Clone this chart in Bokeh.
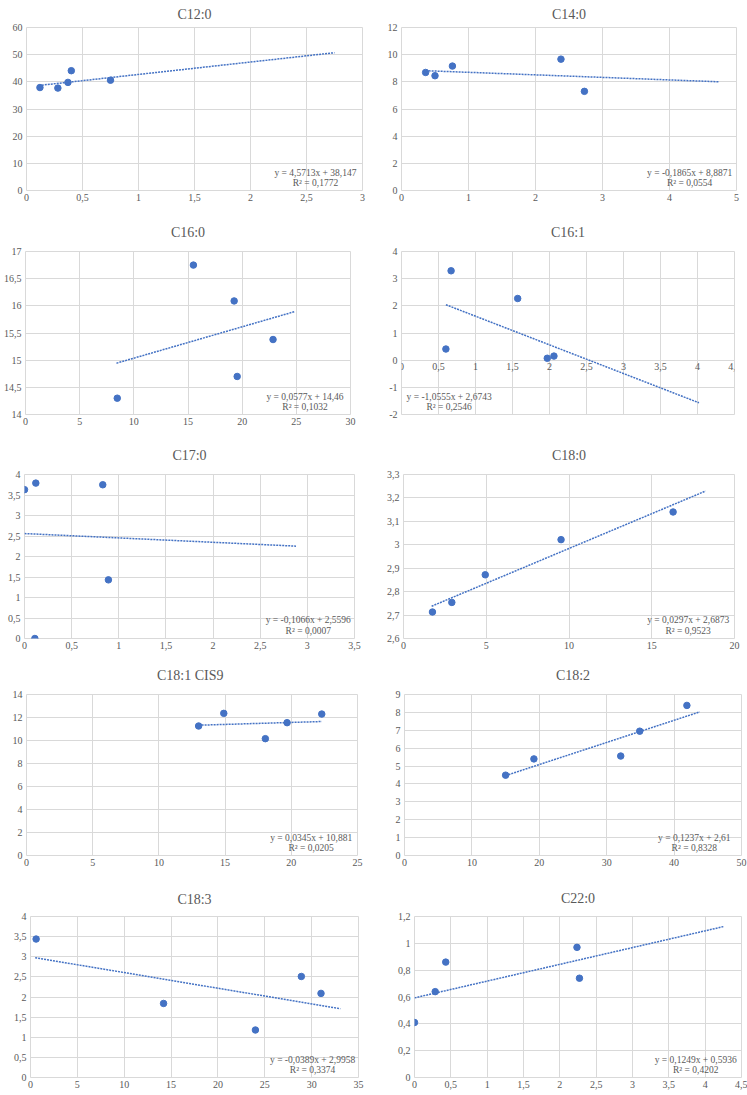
from bokeh.plotting import figure
from bokeh.layouts import column, row
from bokeh.models import Range1d, FixedTicker, CustomJSTickFormatter, Label
from bokeh.embed import file_html
from bokeh.resources import INLINE

# ---------------- data ----------------
titles = ["C12:0", "C14:0", "C16:0", "C16:1", "C17:0",
          "C18:0", "C18:1  CIS9", "C18:2", "C18:3", "C22:0"]

c12_0_x = [0.12, 0.28, 0.37, 0.40, 0.75]
c12_0_y = [37.9, 37.7, 39.8, 44.1, 40.6]
c14_0_x = [0.36, 0.50, 0.76, 2.38, 2.73]
c14_0_y = [8.69, 8.45, 9.16, 9.67, 7.30]
c16_0_x = [8.47, 15.5, 19.26, 19.54, 22.85]
c16_0_y = [14.30, 16.75, 16.09, 14.70, 15.38]
c16_1_x = [0.60, 0.67, 1.57, 1.97, 2.06]
c16_1_y = [0.41, 3.29, 2.27, 0.07, 0.15]
c17_0_x = [0.0, 0.12, 0.83, 0.89, 0.11]
c17_0_y = [3.63, 3.79, 3.75, 1.43, 0.0]
c18_0_x = [1.75, 2.92, 4.94, 9.52, 16.29]
c18_0_y = [2.713, 2.754, 2.872, 3.022, 3.140]
c18_1_x = [13.0, 14.9, 18.04, 19.68, 22.3]
c18_1_y = [11.26, 12.36, 10.16, 11.55, 12.30]
c18_2_x = [15.0, 19.2, 32.08, 34.9, 41.9]
c18_2_y = [4.49, 5.40, 5.56, 6.95, 8.39]
c18_3_x = [0.6, 14.2, 24.0, 28.9, 31.0]
c18_3_y = [3.44, 1.84, 1.18, 2.51, 2.09]
c22_0_x = [0.0, 0.285, 0.43, 2.236, 2.27]
c22_0_y = [0.41, 0.64, 0.86, 0.97, 0.74]

xs_all = [c12_0_x, c14_0_x, c16_0_x, c16_1_x, c17_0_x,
          c18_0_x, c18_1_x, c18_2_x, c18_3_x, c22_0_x]
ys_all = [c12_0_y, c14_0_y, c16_0_y, c16_1_y, c17_0_y,
          c18_0_y, c18_1_y, c18_2_y, c18_3_y, c22_0_y]

slopes = [4.5713, -0.1865, 0.0577, -1.0555, -0.1066,
          0.0297, 0.0345, 0.1237, -0.0389, 0.1249]
intercepts = [38.147, 8.8871, 14.46, 2.6743, 2.5596,
              2.6873, 10.881, 2.61, 2.9958, 0.5936]
trend_x_start = [0.11, 0.36, 8.4, 0.6, 0.0, 1.7, 13.0, 15.0, 0.5, 0.0]
trend_x_end = [2.75, 4.74, 24.85, 4.02, 2.88, 18.25, 22.3, 43.8, 33.06, 4.25]

eq_texts = ["y = 4,5713x + 38,147", "y = -0,1865x + 8,8871", "y = 0,0577x + 14,46",
            "y = -1,0555x + 2,6743", "y = -0,1066x + 2,5596", "y = 0,0297x + 2,6873",
            "y = 0,0345x + 10,881", "y = 0,1237x + 2,61", "y = -0,0389x + 2,9958",
            "y = 0,1249x + 0,5936"]
r2_texts = ["R² = 0,1772", "R² = 0,0554", "R² = 0,1032", "R² = 0,2546", "R² = 0,0007",
            "R² = 0,9523", "R² = 0,0205", "R² = 0,8328", "R² = 0,3374", "R² = 0,4202"]

x_ticks = [
    [0, 0.5, 1, 1.5, 2, 2.5, 3],
    [0, 1, 2, 3, 4, 5],
    [0, 5, 10, 15, 20, 25, 30],
    [0, 0.5, 1, 1.5, 2, 2.5, 3, 3.5, 4, 4.5],
    [0, 0.5, 1, 1.5, 2, 2.5, 3, 3.5],
    [0, 5, 10, 15, 20],
    [0, 5, 10, 15, 20, 25],
    [0, 10, 20, 30, 40, 50],
    [0, 5, 10, 15, 20, 25, 30, 35],
    [0, 0.5, 1, 1.5, 2, 2.5, 3, 3.5, 4, 4.5],
]
y_ticks = [
    [0, 10, 20, 30, 40, 50, 60],
    [0, 2, 4, 6, 8, 10, 12],
    [14, 14.5, 15, 15.5, 16, 16.5, 17],
    [-2, -1, 0, 1, 2, 3, 4],
    [0, 0.5, 1, 1.5, 2, 2.5, 3, 3.5, 4],
    [2.6, 2.7, 2.8, 2.9, 3.0, 3.1, 3.2, 3.3],
    [0, 2, 4, 6, 8, 10, 12, 14],
    [0, 1, 2, 3, 4, 5, 6, 7, 8, 9],
    [0, 0.5, 1, 1.5, 2, 2.5, 3, 3.5, 4],
    [0, 0.2, 0.4, 0.6, 0.8, 1.0, 1.2],
]

# ---------------- layout / style ----------------
BLUE = "#4472C4"
GRAY = "#595959"
GRID = "#d9d9d9"
SERIF = "Liberation Serif"

col_w = [374, 373]
row_h = [206, 226, 220, 220, 222]
# (left, right, top, bottom)
borders = [(26, 12, 27, 16), (27, 11, 27, 16),
           (24, 24, 45, 18), (27, 13, 45, 7),
           (24, 20, 42, 14), (29, 13, 42, 13),
           (26, 17, 41, 17), (30, 6, 42, 16),
           (30, 16, 43, 17), (40, 6, 44, 16)]
title_standoff = [8, 8, 19, 19, 19, 19, 19, 19, 16, 18]

fmt_code = "var v = Math.round(tick*1000)/1000; return v.toString().replace('.', ',');"


def make(i):
    w = col_w[i % 2]
    h = row_h[i // 2]
    bl, br, bt, bb = borders[i]
    xt, yt = x_ticks[i], y_ticks[i]
    p = figure(width=w, height=h, output_backend="svg", toolbar_location=None,
               x_range=Range1d(xt[0], xt[-1]), y_range=Range1d(yt[0], yt[-1]),
               min_border_left=bl, min_border_right=br,
               min_border_top=bt, min_border_bottom=bb,
               title=titles[i])
    p.title.align = "center"
    p.title.vertical_align = "top"
    p.title.text_font = SERIF
    p.title.text_font_size = "14px"
    p.title.text_font_style = "normal"
    p.title.text_color = GRAY
    p.title.standoff = title_standoff[i]

    p.outline_line_color = GRID
    p.outline_line_width = 1
    p.background_fill_color = "white"
    p.border_fill_color = "white"

    p.xaxis.ticker = FixedTicker(ticks=xt)
    p.yaxis.ticker = FixedTicker(ticks=yt)
    p.xgrid.ticker = FixedTicker(ticks=xt)
    p.ygrid.ticker = FixedTicker(ticks=yt)
    p.grid.grid_line_color = GRID
    p.grid.grid_line_width = 1
    for ax in (p.xaxis, p.yaxis):
        ax.formatter = CustomJSTickFormatter(code=fmt_code)
        ax.axis_line_color = None
        ax.major_tick_line_color = None
        ax.minor_tick_line_color = None
        ax.major_tick_out = 0
        ax.major_tick_in = 0
        ax.major_label_text_font = SERIF
        ax.major_label_text_font_size = "10px"
        ax.major_label_text_color = GRAY
    p.xaxis.major_label_standoff = 3
    p.yaxis.major_label_standoff = 4
    if yt[0] < 0:
        p.xaxis.fixed_location = 0

    x0, x1 = trend_x_start[i], trend_x_end[i]
    m, b = slopes[i], intercepts[i]
    p.line([x0, x1], [m * x0 + b, m * x1 + b], line_color=BLUE,
           line_width=1.5, line_dash="2 1")
    p.scatter(xs_all[i], ys_all[i], size=6.5, color=BLUE)

    xr = xt[-1] - xt[0]
    yr = yt[-1] - yt[0]
    fx = 0.143 if yt[0] < 0 else 0.86
    lx = xt[0] + fx * xr
    for txt, fy in ((eq_texts[i], 0.11), (r2_texts[i], 0.045)):
        p.add_layout(Label(x=lx, y=yt[0] + fy * yr, text=txt,
                           text_align="center", text_baseline="middle",
                           text_font=SERIF, text_font_size="9.5px",
                           text_color=GRAY))
    return p


figs = [make(i) for i in range(10)]
layout = column(*[row(figs[2 * r], figs[2 * r + 1]) for r in range(5)])

open("out.html", "w").write(file_html(layout, INLINE))
